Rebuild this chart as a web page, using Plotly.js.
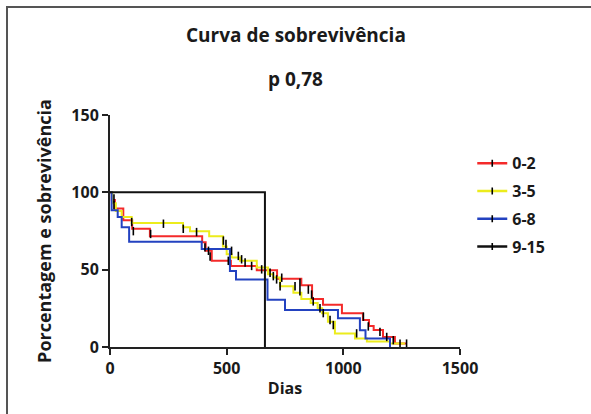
<!DOCTYPE html>
<html>
<head>
<meta charset="utf-8">
<script src="https://cdn.plot.ly/plotly-3.0.1.min.js"></script>
<style>
  html, body { margin: 0; padding: 0; background: #fff; }
  #wrap { position: relative; width: 591px; height: 414px; }
  #chart { position: absolute; left: 0; top: 0; width: 591px; height: 414px; }
  #frame { position: absolute; left: 6px; top: 6px; right: 0; bottom: 0;
           border-top: 2px solid #555; border-left: 2px solid #555; pointer-events: none; }
</style>
</head>
<body>
<div id="wrap">
  <div id="chart"></div>
  <div id="frame"></div>
</div>
<script>
var groupNames = ["0-2", "3-5", "6-8", "9-15"];

// 0-2 (red)
var days02 = [0, 8, 21, 57, 95, 171, 395, 410, 436, 518, 629, 716, 820, 866, 913, 994, 1084, 1110, 1130, 1170, 1221, 1271];
var surv02 = [100, 95, 89.5, 82, 76.4, 71.6, 67.7, 62.2, 55.7, 52.4, 49.6, 44.1, 40, 31, 27.3, 21.9, 17.5, 13.5, 11, 6.5, 2.2, 2.2];
var cens02Days = [17, 100, 174, 407, 422, 650, 686, 814, 871, 914, 1107, 1157, 1214, 1271];
var cens02Surv = [96, 74.9, 73.1, 64.4, 62.2, 50.2, 48, 41.5, 29.5, 21.9, 13.3, 9.8, 4.4, 2.2];

// 3-5 (yellow)
var days35 = [0, 10, 25, 50, 93, 313, 343, 425, 484, 500, 521, 557, 629, 677, 700, 729, 786, 820, 860, 890, 909, 934, 964, 1050, 1101, 1200, 1264];
var surv35 = [100, 93, 88, 84, 80.2, 77.5, 74.9, 71.6, 65, 60, 57.9, 55.7, 51.4, 47, 45, 39.3, 35, 31, 28.4, 25, 21.9, 16.4, 8.8, 5.5, 3.5, 2.2, 2.2];
var cens35Days = [93, 229, 314, 371, 486, 497, 521, 550, 564, 579, 607, 700, 729, 793, 850, 900, 943, 957, 1057, 1186, 1243];
var cens35Surv = [80.8, 79.7, 76.4, 74.3, 68.8, 66.6, 62.2, 58.9, 56.7, 54.6, 52.4, 45.8, 39.3, 39.3, 37.1, 25.1, 17.5, 14.2, 8.8, 6.5, 2.2];

// 6-8 (blue)
var days68 = [0, 7, 33, 50, 82, 393, 514, 540, 675, 750, 977, 1071, 1095, 1200];
var surv68 = [100, 88.4, 84, 77.5, 68, 63.3, 49.1, 43.7, 30.6, 24, 18.6, 10.9, 5.5, 0];
var cens68Days = [17, 429, 507, 714, 736, 814, 864, 1086];
var cens68Surv = [91.7, 58.5, 55.7, 43.7, 44.8, 36, 33.9, 19.6];

// 9-15 (black)
var days915 = [0, 664];
var surv915 = [100, 0];

var colors = ["#f42a2a", "#ecec1c", "#2342c0", "#111111"];

// ---- Traces ----
function stepTrace(x, y, c) {
  return { x: x, y: y, type: "scatter", mode: "lines", line: { shape: "hv", color: c, width: 2 },
           showlegend: false, hoverinfo: "skip" };
}
function censTrace(x, y) {
  return { x: x, y: y, type: "scatter", mode: "markers", showlegend: false, hoverinfo: "skip",
           marker: { symbol: "line-ns", size: 6, color: "#000", line: { color: "#000", width: 1.6 } } };
}
function legendTrace(name, c, i) {
  return { x: [null], y: [null], type: "scatter", mode: "lines+markers", name: name, legendgroup: "g" + i,
           line: { color: c, width: 2.5 },
           marker: { symbol: "line-ns", size: 5, color: "#000", line: { color: "#000", width: 1.6 } } };
}

var data = [
  stepTrace(days02, surv02, colors[0]),
  stepTrace(days35, surv35, colors[1]),
  stepTrace(days68, surv68, colors[2]),
  stepTrace(days915, surv915, colors[3]),
  censTrace(cens02Days, cens02Surv),
  censTrace(cens35Days, cens35Surv),
  censTrace(cens68Days, cens68Surv)
];
for (var i = 0; i < groupNames.length; i++) data.push(legendTrace(groupNames[i], colors[i], i));

var fontFam = "Open Sans, Noto Sans, sans-serif";
var layout = {
  width: 591, height: 414,
  margin: { l: 110, r: 131, t: 115, b: 67 },
  paper_bgcolor: "rgba(0,0,0,0)",
  plot_bgcolor: "rgba(0,0,0,0)",
  font: { family: fontFam, color: "#1a1a1a", size: 15, weight: 700 },
  annotations: [
    { text: "Curva de sobrevivência", xref: "paper", yref: "paper", x: 0.53, y: 1, yshift: 80,
      showarrow: false, font: { family: fontFam, size: 19, weight: 700, color: "#1a1a1a" }, yanchor: "middle" },
    { text: "p 0,78", xref: "paper", yref: "paper", x: 0.53, y: 1, yshift: 36,
      showarrow: false, font: { family: fontFam, size: 19, weight: 700, color: "#1a1a1a" }, yanchor: "middle" }
  ],
  xaxis: {
    range: [0, 1500], tickvals: [0, 500, 1000, 1500], ticktext: ["0", "500", "1000", "1500"],
    showline: true, linecolor: "#222", linewidth: 2, ticks: "outside", ticklen: 6, tickwidth: 2, tickcolor: "#222",
    showgrid: false, zeroline: false,
    title: { text: "Dias", font: { size: 16, weight: 700 }, standoff: 5 },
    tickfont: { size: 16, weight: 700 }
  },
  yaxis: {
    range: [0, 150], tickvals: [0, 50, 100, 150], ticktext: ["0", "50", "100", "150"],
    showline: true, linecolor: "#222", linewidth: 2, ticks: "outside", ticklen: 6, tickwidth: 2, tickcolor: "#222",
    showgrid: false, zeroline: false,
    title: { text: "Porcentagem e sobrevivência", font: { size: 18, weight: 700 }, standoff: 15 },
    tickfont: { size: 16, weight: 700 }
  },
  legend: {
    x: 1.035, y: 0.865, xanchor: "left", yanchor: "top",
    font: { size: 16, weight: 700 }, itemwidth: 30, tracegroupgap: 4,
    bgcolor: "rgba(0,0,0,0)"
  }
};

Plotly.newPlot("chart", data, layout, { displayModeBar: false, staticPlot: true });
</script>
</body>
</html>
